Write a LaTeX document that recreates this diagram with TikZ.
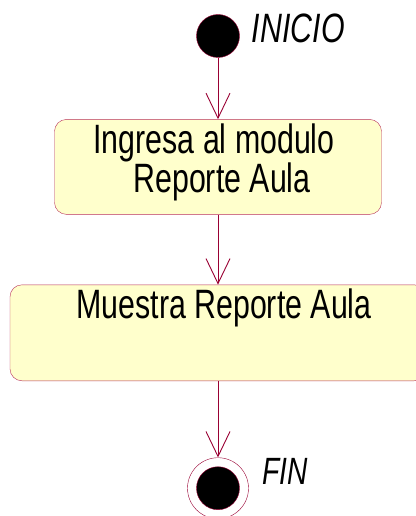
\documentclass[tikz,border=0pt]{standalone}
\usepackage{fontspec}
\newfontfamily\rosefont[FakeStretch=0.74]{Liberation Sans}
\usetikzlibrary{arrows.meta, positioning}
\definecolor{ruta}{HTML}{990033}
\definecolor{borde}{HTML}{B8325A}
\definecolor{crema}{HTML}{FFFFCC}
\tikzset{
  inicial/.style ={circle, draw=ruta, fill=black, minimum size=43pt, inner sep=0pt},
  final/.style   ={circle, draw=ruta, fill=white, minimum size=61pt, inner sep=0pt,
                   path picture={\filldraw[draw=ruta, fill=black]
                     (path picture bounding box.center) circle (21.5pt);}},
  act/.style     ={rectangle, draw=borde, fill=crema, rounded corners=12pt,
                   minimum height=95pt, inner sep=0pt},
  acttxt/.style  ={anchor=north, align=center, inner sep=4pt,
                   font=\rosefont\fontsize{41}{37}\selectfont},
  etiq/.style    ={inner sep=0pt, font=\rosefont\itshape\fontsize{41}{42}\selectfont},
  flujo/.style   ={-{Straight Barb[length=25pt, width=24pt]}, draw=ruta, line width=0.9pt}
}

\begin{document}
\begin{tikzpicture}[x=1pt, y=-1pt]
    \useasboundingbox (0,0) rectangle (415,516);
    \node[inicial] (inicio) at (218,36) {};
    \node[etiq, right=12pt of inicio, yshift=7.5pt] (txtinicio) {INICIO};
    \node[act, below=61.5pt of inicio, minimum width=327pt,
          label={[acttxt]north:{Ingresa al modulo\hspace*{8pt}\\\hspace*{8pt}Reporte Aula}}] (ingresa) {};
    \node[act, below=70pt of ingresa, minimum width=416pt, minimum height=96pt,
          label={[acttxt, xshift=6pt]north:{Muestra Reporte Aula}}] (muestra) {};
    \node[final, below=76.5pt of muestra] (fin) {};
    \node[etiq, right=13.5pt of fin, yshift=17pt,
          font=\rosefont\itshape\fontsize{38}{39}\selectfont] (txtfin) {FIN};
    \draw[flujo] (inicio) -- (ingresa);
    \draw[flujo] (ingresa) -- (muestra);
    \draw[flujo] (muestra) -- (fin);
  \end{tikzpicture}
\end{document}
